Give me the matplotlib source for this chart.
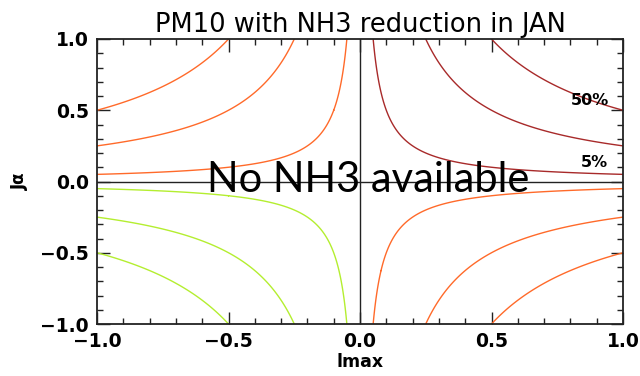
import numpy as np
import matplotlib
matplotlib.use("Agg")
import matplotlib.pyplot as plt
from matplotlib.ticker import MultipleLocator

# Contour levels of the response surface (fraction), with labels
levels = [0.05, 0.25, 0.5]
label_text = ["5%", "50%"]
label_pos = [(0.89, 0.135), (0.875, 0.57)]

x_ticks = [-1.0, -0.5, 0.0, 0.5, 1.0]
y_ticks = [-1.0, -0.5, 0.0, 0.5, 1.0]

c_neg = "#ff6a2a"
c_pos_right = "#a82a2a"
c_pos_left = "#b4ee30"

x = np.linspace(-1, 1, 401)
y = np.linspace(-1, 1, 401)
X, Y = np.meshgrid(x, y)
Z = X * Y

fig = plt.figure(figsize=(6.4, 3.76), dpi=100)
ax = fig.add_axes([97 / 640, 1 - 324 / 376, 526 / 640, 285 / 376])

neg_levels = sorted(-v for v in levels)
ax.contour(X, Y, np.ma.masked_where(Z >= 0, Z), levels=neg_levels,
           colors=c_neg, linewidths=1.0, linestyles="solid")
ax.contour(X, Y, np.ma.masked_where((Z <= 0) | (X < 0), Z), levels=levels,
           colors=c_pos_right, linewidths=1.0, linestyles="solid")
ax.contour(X, Y, np.ma.masked_where((Z <= 0) | (X > 0), Z), levels=levels,
           colors=c_pos_left, linewidths=1.0, linestyles="solid")

ax.axhline(0, color="#222222", lw=1.0)
ax.axvline(0, color="#222222", lw=1.0)

for txt, (tx, ty) in zip(label_text, label_pos):
    ax.text(tx, ty, txt, ha="center", va="center", fontsize=11.5,
            fontweight="bold", color="black", family="DejaVu Sans")

ax.text(0.03, 0.01, "No NH3 available", ha="center", va="center",
        fontsize=30, color="black", family="Lato")

ax.set_xlim(-1, 1)
ax.set_ylim(-1, 1)
ax.set_xticks(x_ticks)
ax.set_yticks(y_ticks)
ax.set_xticklabels([f"{v:.1f}".replace("-", "\u2212") for v in x_ticks])
ax.set_yticklabels([f"{v:.1f}".replace("-", "\u2212") for v in y_ticks])
ax.xaxis.set_minor_locator(MultipleLocator(0.1))
ax.yaxis.set_minor_locator(MultipleLocator(0.1))
ax.tick_params(which="both", direction="in", top=True, right=True,
               color="#222222", width=1.0)
ax.tick_params(which="major", length=9, labelsize=13.5, pad=6)
ax.tick_params(which="minor", length=4)
for lab in ax.get_xticklabels() + ax.get_yticklabels():
    lab.set_fontweight("bold")
for sp in ax.spines.values():
    sp.set_linewidth(1.3)
    sp.set_color("#222222")

ax.set_xlabel("lmax", fontsize=12.5, fontweight="bold", labelpad=1)
ax.set_ylabel("J\u03b1", fontsize=12, fontweight="bold", labelpad=8)
ax.set_title("PM10 with NH3 reduction in JAN", fontsize=18.5, pad=5)

fig.savefig("out.png", dpi=100)
